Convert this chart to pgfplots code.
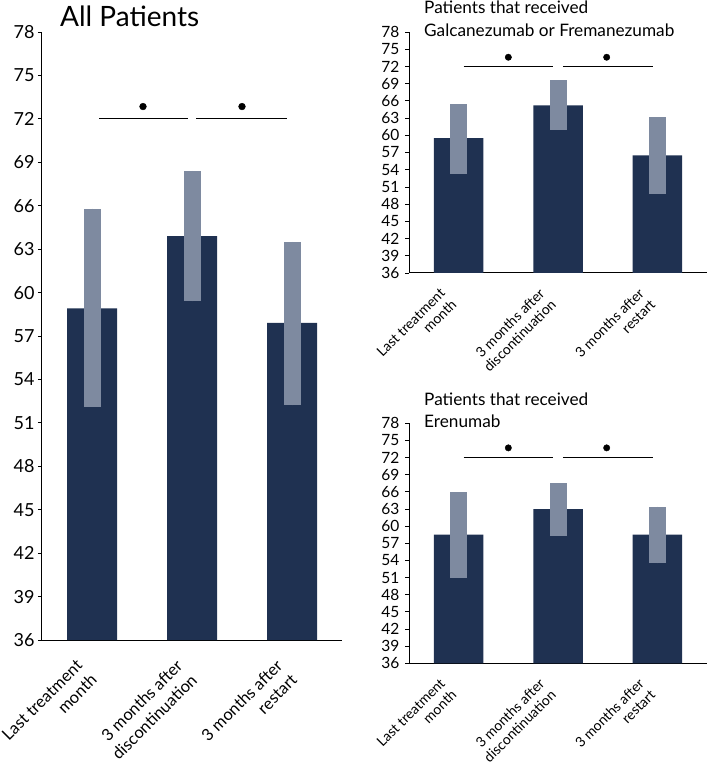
\documentclass[border=0pt]{standalone}
\usepackage{pgfplots}
\pgfplotsset{compat=1.18}
\usepackage{fontspec}
\setmainfont{Lato}
\definecolor{barcol}{HTML}{1F3151}
\definecolor{errcol}{HTML}{7E8AA0}
\pgfplotsset{
 mybase/.style={
  scale only axis,
  axis lines*=left,
  xmin=-0.5, xmax=2.5,
  ymin=36, ymax=78,
  ytick={36,39,...,78},
  xtick={0,1,2},
  tick align=outside,
  major tick length=4pt,
  ytick style={black, line width=0.8pt},
  xtick style={black, line width=0.8pt, yshift=4pt},
  axis line style={line width=1pt},
  /pgf/number format/assume math mode=true,
  xticklabels={Last treatment\\month, 3 months after\\discontinuation, 3 months after\\restart},
  xticklabel style={rotate=45, anchor=north east, align=right, inner sep=1pt},
 },
 barsty/.style={ybar, fill=barcol, draw=none, bar width=#1,
   error bars/.cd, y dir=both, y explicit, error mark=none,
   error bar style={line width=17pt, errcol}},
 sigsty/.style={black, line width=1.2pt},
 dotsty/.style={only marks, mark=*, mark size=#1, black},
}
\begin{document}
\begin{tikzpicture}
\useasboundingbox (0,0) rectangle (708pt,763pt);
% ---- All patients
\begin{axis}[mybase, width=300pt, height=608pt, at={(42pt,123pt)}, anchor=south west,
  yticklabel style={font=\fontsize{18}{20}\selectfont},
  xticklabel style={font=\fontsize{16.5}{20.5}\selectfont, xshift=-21pt, yshift=3pt}]
\addplot[barsty=50pt] coordinates {
 (0,58.9) += (0,6.9) -= (0,6.8)
 (1,63.9) += (0,4.5) -= (0,4.5)
 (2,57.9) += (0,5.6) -= (0,5.7)};
\addplot[sigsty] coordinates {(0.07,72) (0.96,72)};
\addplot[sigsty] coordinates {(1.04,72) (1.95,72)};
\addplot[dotsty=3.4pt] coordinates {(0.51,72.85) (1.5,72.85)};
\end{axis}
% ---- Galcanezumab or Fremanezumab
\begin{axis}[mybase, width=298pt, height=241pt, at={(409pt,490pt)}, anchor=south west,
  yticklabel style={font=\fontsize{15.5}{17}\selectfont, xshift=-2pt},
  xticklabel style={font=\fontsize{14}{16}\selectfont, xshift=-20pt, yshift=8pt}]
\addplot[barsty=49.5pt] coordinates {
 (0,59.5) += (0,5.9) -= (0,6.2)
 (1,65.2) += (0,4.4) -= (0,4.2)
 (2,56.5) += (0,6.6) -= (0,6.7)};
\addplot[sigsty] coordinates {(0.05,72) (0.95,72)};
\addplot[sigsty] coordinates {(1.05,72) (1.96,72)};
\addplot[dotsty=3.2pt] coordinates {(0.5,73.6) (1.49,73.6)};
\end{axis}
% ---- Erenumab
\begin{axis}[mybase, width=298pt, height=240pt, at={(409pt,99.7pt)}, anchor=south west,
  yticklabel style={font=\fontsize{15.5}{17}\selectfont, xshift=-2pt},
  xticklabel style={font=\fontsize{14}{16}\selectfont, xshift=-20pt, yshift=8pt}]
\addplot[barsty=49.5pt] coordinates {
 (0,58.5) += (0,7.4) -= (0,7.6)
 (1,63.0) += (0,4.5) -= (0,4.7)
 (2,58.5) += (0,4.9) -= (0,5.0)};
\addplot[sigsty] coordinates {(0.05,72) (0.95,72)};
\addplot[sigsty] coordinates {(1.05,72) (1.96,72)};
\addplot[dotsty=3.2pt] coordinates {(0.5,73.7) (1.49,73.7)};
\end{axis}
% ---- titles
\node[anchor=base west, inner sep=0pt, font=\fontsize{28}{30}\selectfont] at (60pt,736.3pt) {All Patients};
\node[anchor=base west, inner sep=0pt, font=\fontsize{17.2}{20}\selectfont] at (424pt,749.7pt) {Patients that received};
\node[anchor=base west, inner sep=0pt, font=\fontsize{17.2}{20}\selectfont] at (424pt,726.3pt) {Galcanezumab or Fremanezumab};
\node[anchor=base west, inner sep=0pt, font=\fontsize{17.2}{20}\selectfont] at (424pt,357pt) {Patients that received};
\node[anchor=base west, inner sep=0pt, font=\fontsize{17.2}{20}\selectfont] at (424pt,335pt) {Erenumab};
\end{tikzpicture}
\end{document}
